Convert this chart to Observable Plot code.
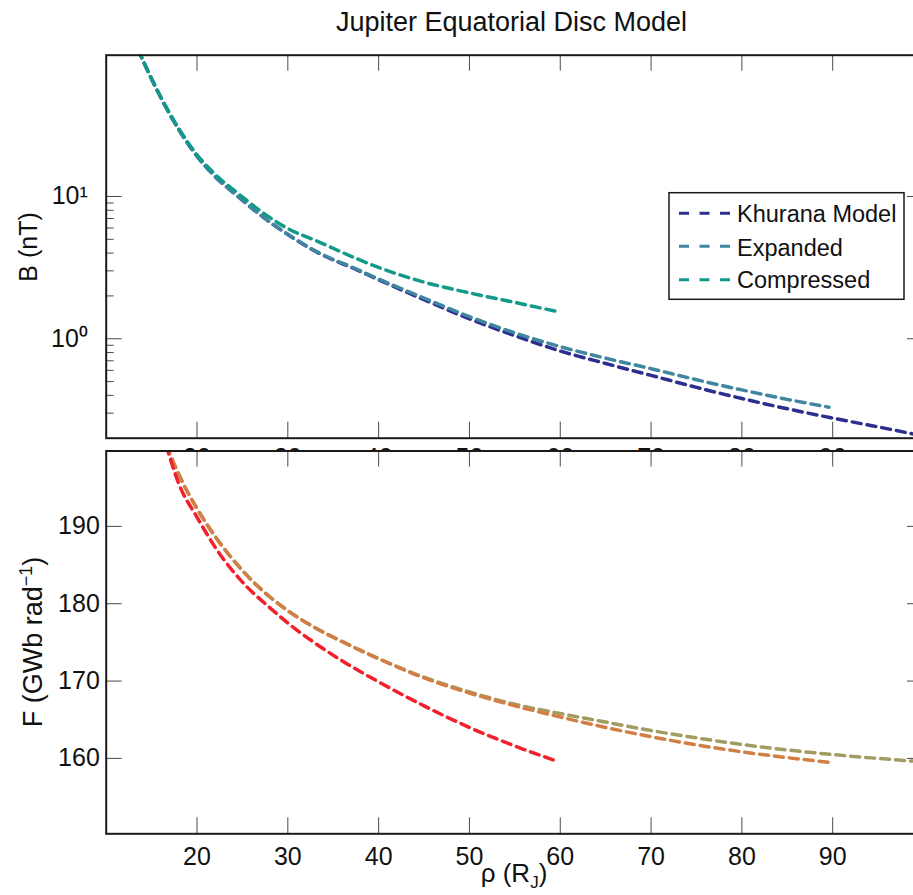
<!DOCTYPE html>
<html><head><meta charset="utf-8">
<script src="https://cdn.jsdelivr.net/npm/d3@7"></script>
<script src="https://cdn.jsdelivr.net/npm/@observablehq/plot@0.6"></script>
<style>
html,body{margin:0;padding:0;background:#fff;overflow:hidden;}
#wrap{position:relative;width:913px;height:895px;overflow:hidden;font-family:"Liberation Sans",Arial,Helvetica,sans-serif;}
#wrap > svg{position:absolute;left:0;}
</style></head><body><div id="wrap"></div>
<script>
// ---------- data ----------
const seriesNames = ["Khurana Model", "Expanded", "Compressed"];
const topColors = ["#2c2f8d", "#3f86a0", "#12998a"];
const bottomColors = ["#a39c62", "#d27f45", "#f2202a"];

// Top panel: B (nT) vs rho (R_J)
const rhoKhuranaB = [13.5,15,16.7,18,20,22,24.6,27,30,33.4,37.6,40,45,50,55,60,65,70,75,80,85,90,95,100];
const khuranaB    = [108,67,41,29.5,19.2,13.8,9.9,7.4,5.4,4.0,3.05,2.6,1.88,1.38,1.05,0.82,0.67,0.553,0.455,0.38,0.322,0.277,0.24,0.207];
const rhoExpandedB = [13.5,15,16.7,18,20,22,24.6,27,30,33.4,37.6,40,45,50,55,60,65,70,75,80,85,89.6];
const expandedB    = [108,67,41,29.5,19.2,13.8,9.9,7.4,5.42,4.03,3.08,2.63,1.93,1.43,1.10,0.88,0.73,0.616,0.515,0.437,0.375,0.330];
const rhoCompressedB = [13.5,15,16.7,18,20,22,24.6,27,30,33.4,37.6,40,45,50,55,59.5];
const compressedB    = [108,67,41.5,30,19.65,14.3,10.4,7.9,5.95,4.8,3.65,3.17,2.5,2.1,1.8,1.56];

// Bottom panel: F (GWb rad^-1) vs rho (R_J)
const rhoKhuranaF = [16.6,18,20,22,25,28,30,33,36,40,45,50,55,60,65,70,75,80,85,90,95,100];
const khuranaF    = [200.5,196.7,192.3,188.7,184.3,180.9,179.1,176.9,175.1,172.9,170.5,168.6,167.0,165.8,164.7,163.6,162.65,161.8,161.1,160.5,160.0,159.55];
const rhoExpandedF = [16.6,18,20,22,25,28,30,33,36,40,45,50,55,60,65,70,75,80,85,89.5];
const expandedF    = [200.5,196.7,192.3,188.7,184.3,180.9,179.1,176.9,175.1,172.9,170.4,168.45,166.8,165.35,164.0,162.8,161.75,160.85,160.1,159.5];
const rhoCompressedF = [16.6,18,20,22,25,28,30,33,36,40,45,50,55,59.5];
const compressedF    = [200.5,195.5,191.2,187.3,182.8,179.5,177.5,174.9,172.6,169.9,166.8,164.0,161.6,159.7];

// ticks
const xTicks = [20,30,40,50,60,70,80,90];
const xTickLabels = ["20","30","40","50","60","70","80","90"];
const yTopMajor = [1,10];
const yTopMajorLabels = ["10\u2070","10\u00b9"];
const yTopMinor = [0.3,0.4,0.5,0.6,0.7,0.8,0.9,2,3,4,5,6,7,8,9];
const yBottomTicks = [160,170,180,190];
const yBottomTickLabels = ["160","170","180","190"];

// ---------- build ----------
const font = "'Liberation Sans', Arial, Helvetica, sans-serif";
const W = 923, ML = 105.7;
const plotW = W - ML;
function toRows(rho, vals, name) { return rho.map((r, i) => ({rho: r, v: vals[i], name})); }
const topRows = [
  ...toRows(rhoKhuranaB, khuranaB, seriesNames[0]),
  ...toRows(rhoExpandedB, expandedB, seriesNames[1]),
  ...toRows(rhoCompressedB, compressedB, seriesNames[2])
];
const botRows = [
  ...toRows(rhoKhuranaF, khuranaF, seriesNames[0]),
  ...toRows(rhoExpandedF, expandedF, seriesNames[1]),
  ...toRows(rhoCompressedF, compressedF, seriesNames[2])
];
const tickColor = "#4a4a4a";
const svgStyle = {background: "transparent", maxWidth: "none", fontFamily: font, fontSize: "25px", color: "#111", overflow: "visible"};
const lineW = 3.5, dash = "9,6";

const topH = 480, topMT = 54.7, topMB = 42.3;
const topPlotH = topH - topMT - topMB;
const topChart = Plot.plot({
  width: W, height: topH,
  marginTop: topMT, marginBottom: topMB, marginLeft: ML, marginRight: 0,
  style: svgStyle,
  x: {domain: [10, 100], ticks: xTicks, tickFormat: (d) => xTickLabels[xTicks.indexOf(d)], tickSize: 0, tickPadding: 10, label: null},
  y: {type: "log", domain: [0.2, 98.4], ticks: yTopMajor, tickFormat: (d) => yTopMajorLabels[yTopMajor.indexOf(d)], tickSize: 0, tickPadding: 18.4, label: null},
  color: {domain: seriesNames, range: topColors},
  marks: [
    Plot.line(topRows, {x: "rho", y: "v", z: "name", stroke: "name", strokeWidth: lineW, strokeDasharray: dash, curve: "monotone-x", clip: true}),
    Plot.tickX(xTicks, {x: (d) => d, insetTop: topPlotH - 16, stroke: tickColor}),
    Plot.tickX(xTicks, {x: (d) => d, insetBottom: topPlotH - 16, stroke: tickColor}),
    Plot.tickY(yTopMajor, {y: (d) => d, insetRight: plotW - 16, stroke: tickColor}),
    Plot.tickY(yTopMajor, {y: (d) => d, insetLeft: plotW - 16, stroke: tickColor}),
    Plot.tickY(yTopMinor, {y: (d) => d, insetRight: plotW - 8, stroke: tickColor}),
    Plot.tickY(yTopMinor, {y: (d) => d, insetLeft: plotW - 8, stroke: tickColor}),
    Plot.frame({stroke: "#1a1a1a", strokeWidth: 2})
  ]
});
topChart.style.top = "0px";

const botTop = 440, botH = 455, botMT = 10.5, botMB = 61.7;
const botPlotH = botH - botMT - botMB;
const botChart = Plot.plot({
  width: W, height: botH,
  marginTop: botMT, marginBottom: botMB, marginLeft: ML, marginRight: 0,
  style: svgStyle,
  x: {domain: [10, 100], ticks: xTicks, tickFormat: (d) => xTickLabels[xTicks.indexOf(d)], tickSize: 0, tickPadding: 13, label: null},
  y: {domain: [150.25, 199.75], ticks: yBottomTicks, tickFormat: (d) => yBottomTickLabels[yBottomTicks.indexOf(d)], tickSize: 0, tickPadding: 6.4, label: null},
  color: {domain: seriesNames, range: bottomColors},
  marks: [
    Plot.frame({fill: "white"}),
    Plot.line(botRows, {x: "rho", y: "v", z: "name", stroke: "name", strokeWidth: lineW, strokeDasharray: dash, curve: "monotone-x", clip: true}),
    Plot.tickX(xTicks, {x: (d) => d, insetTop: botPlotH - 16, stroke: tickColor}),
    Plot.tickX(xTicks, {x: (d) => d, insetBottom: botPlotH - 16, stroke: tickColor}),
    Plot.tickY(yBottomTicks, {y: (d) => d, insetRight: plotW - 16, stroke: tickColor}),
    Plot.tickY(yBottomTicks, {y: (d) => d, insetLeft: plotW - 16, stroke: tickColor}),
    Plot.frame({stroke: "#1a1a1a", strokeWidth: 2})
  ]
});
botChart.style.top = botTop + "px";

const wrap = document.getElementById("wrap");
wrap.appendChild(topChart);
wrap.appendChild(botChart);

// ---------- overlay: title, axis labels, legend ----------
const ov = d3.create("svg").attr("width", 913).attr("height", 895)
  .style("top", "0px").style("font-family", font).style("fill", "#111");
ov.append("text").attr("x", 511.5).attr("y", 31).attr("text-anchor", "middle")
  .attr("font-size", 27).text("Jupiter Equatorial Disc Model");

ov.append("text").attr("transform", "translate(36.7,247) rotate(-90)")
  .attr("text-anchor", "middle").attr("font-size", 25).text("B (nT)");

const fl = ov.append("text").attr("transform", "translate(41.7,642) rotate(-90)")
  .attr("text-anchor", "middle").attr("font-size", 27);
fl.append("tspan").text("F (GWb rad");
fl.append("tspan").attr("dy", -10).attr("font-size", 18).text("\u22121");
fl.append("tspan").attr("dy", 10).text(")");

const xl = ov.append("text").attr("x", 514).attr("y", 882).attr("text-anchor", "middle").attr("font-size", 26);
xl.append("tspan").text("\u03c1 (R");
xl.append("tspan").attr("dy", 6).attr("font-size", 17).text("J");
xl.append("tspan").attr("dy", -6).text(")");

const lg = ov.append("g");
lg.append("rect").attr("x", 669).attr("y", 192.7).attr("width", 235).attr("height", 106.6)
  .attr("fill", "white").attr("stroke", "#1a1a1a").attr("stroke-width", 1.5);
const lineY = [213.3, 246.2, 279.7];
const textY = [221.7, 255.5, 288.3];
seriesNames.forEach((n, i) => {
  lg.append("line").attr("x1", 679).attr("x2", 730).attr("y1", lineY[i]).attr("y2", lineY[i])
    .attr("stroke", topColors[i]).attr("stroke-width", 3).attr("stroke-dasharray", "10,10.5");
  lg.append("text").attr("x", 737).attr("y", textY[i]).attr("font-size", 23.5).text(n);
});
wrap.appendChild(ov.node());
</script>
</body></html>
